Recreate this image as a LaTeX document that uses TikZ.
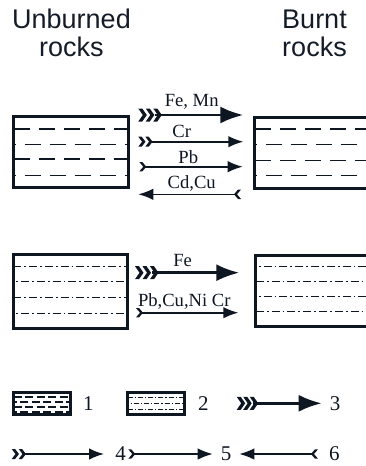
\documentclass[tikz,border=0pt]{standalone}
\usepackage{fontspec}
\setmainfont{Liberation Serif}
\newfontfamily\titlefont{Liberation Sans}
\usetikzlibrary{arrows.meta,calc}
\definecolor{ink}{RGB}{14,22,34}
\definecolor{titleink}{RGB}{20,28,40}
\tikzset{
  rockbox/.style={draw=ink, line width=3.2pt, rectangle, inner sep=0pt, outer sep=0pt},
  dashA/.style={draw=ink, line width=1.5pt, dash pattern=on 16.5pt off 8.5pt},
  dashB/.style={dashA, dash phase=14pt},
  dotA/.style={draw=ink, line width=1.4pt, dash pattern=on 8pt off 3pt on 1.8pt off 3pt},
  dotB/.style={dotA, dash phase=8pt},
  ldashA/.style={draw=ink, line width=1.3pt, dash pattern=on 8pt off 3.5pt},
  ldashB/.style={ldashA, dash phase=5pt},
  ldotA/.style={draw=ink, line width=1.2pt, dash pattern=on 5pt off 2pt on 1.3pt off 2pt},
  ldotB/.style={ldotA, dash phase=4pt},
  thickarr/.style={draw=ink, line width=2.8pt, -{Latex[length=23pt,width=17pt]}},
  thinarr/.style={draw=ink, line width=1.6pt, -{Latex[length=15pt,width=11.5pt]}},
  lbl/.style={font=\fontsize{18.6}{20}\selectfont, text=ink, inner sep=0pt, anchor=base},
  num/.style={font=\fontsize{21}{22}\selectfont, text=ink, inner sep=0pt, anchor=base},
  ttl/.style={font=\titlefont\fontsize{27}{28}\selectfont, text=titleink, inner sep=0pt, anchor=base},
  chevT/.pic={\fill[ink] (0,-6.5) -- (4,-6.5) -- (8.5,0) -- (4,6.5) -- (0,6.5) -- (4.5,0) -- cycle;},
  chevM/.pic={\fill[ink] (0,-5) -- (3.4,-5) -- (7.2,0) -- (3.4,5) -- (0,5) -- (3.8,0) -- cycle;},
  chevS/.pic={\fill[ink] (0,-4.7) -- (3,-4.7) -- (7,0) -- (3,4.7) -- (0,4.7) -- (4,0) -- cycle;}
}
\begin{document}
\begin{tikzpicture}[x=1pt,y=-1pt]
\useasboundingbox (0,0) rectangle (366,466);
\clip (0,0) rectangle (366,466);

% titles
\node[ttl] (t1a) at (71.5,28.3) {Unburned};
\node[ttl] (t1b) at (71.5,56) {rocks};
\node[ttl] (t2a) at (314.5,28.3) {Burnt};
\node[ttl] (t2b) at (314.5,56) {rocks};

% top-left box (dashed)
\foreach \o/\s in {12.5/dashA,27.8/dashB,42.5/dashA,59.2/dashB}
  \draw[\s] (13.5,116.5+\o) -- (128.5,116.5+\o);
\node[rockbox, minimum width=115pt, minimum height=71pt] (b1) at (71,152) {};

% top-right box (dashed)
\foreach \o/\s in {11.5/dashA,26.8/dashB,43/dashA,58.2/dashB}
  \draw[\s] (254.8,117.5+\o) -- (400,117.5+\o);
\node[rockbox, minimum width=145.2pt, minimum height=71pt] (b2) at (327.4,153) {};

% bottom-left box (dash-dot)
\foreach \o/\s in {12.5/dotA,27.5/dotB,43.5/dotA,59.1/dotB}
  \draw[\s] (13.2,254.2+\o) -- (127.8,254.2+\o);
\node[rockbox, minimum width=114.6pt, minimum height=74.3pt] (b3) at (70.5,291.35) {};

% bottom-right box (dash-dot)
\foreach \o/\s in {11.2/dotB,26.2/dotA,41.2/dotB,56.2/dotA}
  \draw[\s] (255.8,255.5+\o) -- (400,255.5+\o);
\node[rockbox, minimum width=145pt, minimum height=71.3pt] (b4) at (328.3,291.15) {};

% arrows top group
\coordinate (a1s) at (155,115); \coordinate (a1e) at (243.3,115);
\draw[thickarr] (a1s) -- (a1e);
\foreach \x in {138.3,145.8,153.3} \pic at (\x,115) {chevT};
\node[lbl] (l1) at (191.7,106.7) {Fe, Mn};

\coordinate (a2s) at (149,141.7); \coordinate (a2e) at (243.3,141.7);
\draw[thinarr] (a2s) -- (a2e);
\foreach \x in {138.3,145.3} \pic at (\x,141.7) {chevM};
\node[lbl] (l2) at (181.7,137.3) {Cr};

\coordinate (a3s) at (144,166.7); \coordinate (a3e) at (242.7,166.7);
\draw[thinarr] (a3s) -- (a3e);
\pic at (139.3,166.7) {chevS};
\node[lbl] (l3) at (188.3,163.3) {Pb};

\coordinate (a4s) at (237,194.3); \coordinate (a4e) at (138.3,194.3);
\draw[thinarr] (a4s) -- (a4e);
\pic[xscale=-1] at (241,194.3) {chevS};
\node[lbl] (l4) at (191.7,188.3) {Cd,Cu};

% arrows bottom group
\coordinate (a5s) at (152,272.7); \coordinate (a5e) at (239.3,272.7);
\draw[thickarr] (a5s) -- (a5e);
\foreach \x in {135,142.5,150} \pic at (\x,272.7) {chevT};
\node[lbl] (l5) at (182.7,266) {Fe};

\coordinate (a6s) at (141,312.7); \coordinate (a6e) at (238.3,312.7);
\draw[thinarr] (a6s) -- (a6e);
\pic at (136,312.7) {chevS};
\node[lbl] (l6) at (184.3,306) {Pb,Cu,Ni Cr};

% legend row 1
\foreach \o/\s in {4.5/ldashA,9.5/ldashB,14.5/ldashA,19.5/ldashB}
  \draw[\s] (13.8,392.5+\o) -- (70.2,392.5+\o);
\node[rockbox, minimum width=56.4pt, minimum height=22pt] (k1) at (42,403.5) {};
\node[num] (n1) at (88.3,410.3) {1};

\foreach \o/\s in {5/ldotA,11/ldotB,17/ldotA}
  \draw[\s] (127.5,392.5+\o) -- (184.2,392.5+\o);
\node[rockbox, minimum width=56.7pt, minimum height=22pt] (k2) at (155.85,403.5) {};
\node[num] (n2) at (203.3,410.3) {2};

\coordinate (k3s) at (253,403.3); \coordinate (k3e) at (321.7,403.3);
\draw[thickarr] (k3s) -- (k3e);
\foreach \x in {236.7,243.2,249.7} \pic at (\x,403.3) {chevT};
\node[num] (n3) at (335,410.3) {3};

% legend row 2
\coordinate (k4s) at (22,454); \coordinate (k4e) at (104,454);
\draw[thinarr] (k4s) -- (k4e);
\foreach \x in {11.7,18.7} \pic at (\x,454) {chevM};
\node[num] (n4) at (120.7,460.8) {4};

\coordinate (k5s) at (133,454); \coordinate (k5e) at (212.7,454);
\draw[thinarr] (k5s) -- (k5e);
\pic at (128.3,454) {chevS};
\node[num] (n5) at (226,460.8) {5};

\coordinate (k6s) at (314,454); \coordinate (k6e) at (239.3,454);
\draw[thinarr] (k6s) -- (k6e);
\pic[xscale=-1] at (318,454) {chevS};
\node[num] (n6) at (334.3,460.8) {6};
\end{tikzpicture}
\end{document}
